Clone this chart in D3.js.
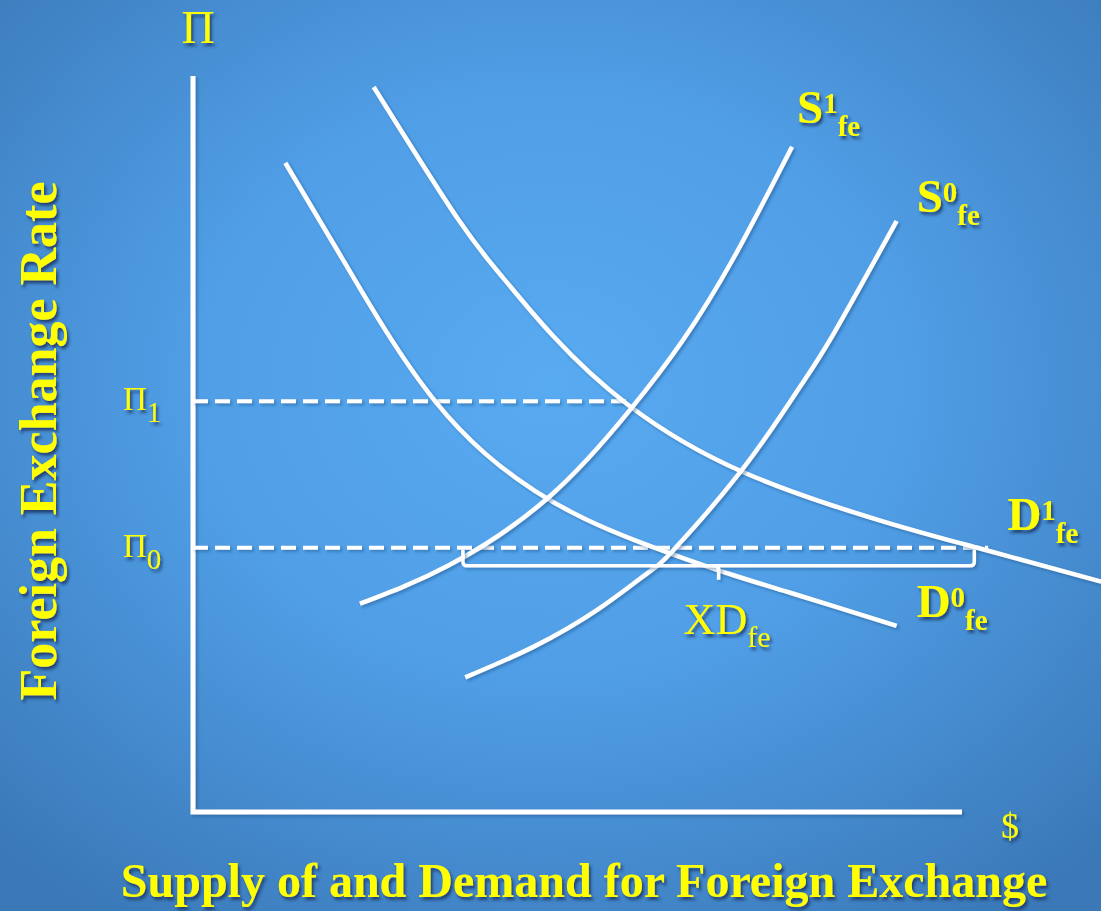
<!DOCTYPE html>
<html>
<head>
<meta charset="utf-8">
<script src="https://cdn.jsdelivr.net/npm/d3@7"></script>
<style>
  html, body { margin: 0; padding: 0; background: #4a8fd4; }
  svg { display: block; }
</style>
</head>
<body>
<div id="chart"></div>
<script>
// curve points as [quantity of $, foreign exchange rate]
const supply0 = [[35.4, 18.3], [44.2, 22.4], [52.9, 27.7], [59.4, 32.7], [62.3, 35.4], [71.1, 46.1], [78.5, 57.1], [83.2, 64.8], [91.5, 80.3]];
const supply1 = [[21.7, 28.3], [33.4, 33.6], [46.4, 42.9], [56.8, 54.6], [63.7, 64.1], [70.2, 75.1], [77.9, 90.4]];
const demand0 = [[12.0, 88.2], [18.5, 76.8], [25.0, 65.5], [31.5, 55.8], [38.0, 48.7], [44.5, 43.6], [51.0, 39.8], [57.5, 36.9], [64.0, 34.4], [70.5, 32.1], [77.0, 30.0], [83.5, 27.9], [91.5, 25.3]];
const demand1 = [[23.5, 98.5], [34.3, 80.8], [40.3, 72.6], [46.8, 64.7], [56.6, 55.3], [71.5, 46.2], [89.7, 39.5], [102.0, 35.9], [118.1, 31.3]];

const rateTicks = [55.8, 35.9];     // Π1, Π0
const rateSubs = ["1", "0"];
const rateEnds = [56.6, 103.4];     // where the dashed lines stop
const excessDemand = [35.1, 101.6]; // S1 and D1 at Π0

const width = 1101, height = 911;

const svg = d3.select("#chart")
  .append("svg")
  .attr("width", width)
  .attr("height", height);

const defs = svg.append("defs");
const grad = defs.append("radialGradient")
  .attr("id", "bg")
  .attr("cx", "50%").attr("cy", "42%").attr("r", "72%");
grad.append("stop").attr("offset", "0%").attr("stop-color", "#58aaf1");
grad.append("stop").attr("offset", "45%").attr("stop-color", "#509ee6");
grad.append("stop").attr("offset", "100%").attr("stop-color", "#3a78b7");

function shadowFilter(id, dx, dy, blur, color, opacity) {
  const f = defs.append("filter").attr("id", id)
    .attr("filterUnits", "userSpaceOnUse")
    .attr("x", 0).attr("y", 0).attr("width", width).attr("height", height);
  f.append("feDropShadow")
    .attr("dx", dx).attr("dy", dy).attr("stdDeviation", blur)
    .attr("flood-color", color).attr("flood-opacity", opacity);
}
shadowFilter("lineShadow", 2, 2, 1.5, "#1d4a80", 0.45);
shadowFilter("textShadow", 2, 3, 1.6, "#12335c", 0.8);

svg.append("rect")
  .attr("width", width)
  .attr("height", height)
  .attr("fill", "url(#bg)");

const x = d3.scaleLinear().domain([0, 100]).range([193, 962]);
const y = d3.scaleLinear().domain([0, 100]).range([812, 76]);

const serif = "'Liberation Serif', 'Times New Roman', serif";
const yellow = "#ffff00";

// axes
svg.append("path")
  .attr("d", `M${x(0)},${y(100)} V${y(0)} H${x(100)}`)
  .attr("fill", "none")
  .attr("stroke", "#fff")
  .attr("stroke-width", 5)
  .attr("filter", "url(#lineShadow)");

// dashed rate lines
svg.selectAll(".rate-line")
  .data(rateTicks)
  .enter()
  .append("line")
  .attr("class", "rate-line")
  .attr("x1", x(0))
  .attr("x2", (d, i) => x(rateEnds[i]))
  .attr("y1", (d) => y(d))
  .attr("y2", (d) => y(d))
  .attr("stroke", "#fff")
  .attr("stroke-width", 4)
  .attr("stroke-dasharray", "15 7")
  .attr("filter", "url(#lineShadow)");

// curves
const line = d3.line()
  .x((d) => x(d[0]))
  .y((d) => y(d[1]))
  .curve(d3.curveNatural);

[demand0, demand1, supply1, supply0].forEach((pts) => {
  svg.append("path")
    .attr("d", line(pts))
    .attr("fill", "none")
    .attr("stroke", "#fff")
    .attr("stroke-width", 4.5)
    .attr("filter", "url(#lineShadow)");
});

// excess demand bracket under Π0
const bx0 = x(excessDemand[0]), bx1 = x(excessDemand[1]);
const bTop = y(rateTicks[1]) + 2, bBot = y(rateTicks[1]) + 18;
const bMid = (bx0 + bx1) / 2, r = 4;
const bracket = svg.append("g")
  .attr("fill", "none")
  .attr("stroke", "#fff")
  .attr("stroke-width", 3.5)
  .attr("filter", "url(#lineShadow)");
bracket.append("path")
  .attr("d", `M${bx0},${bTop} V${bBot - r} Q${bx0},${bBot} ${bx0 + r},${bBot} H${bx1 - r} Q${bx1},${bBot} ${bx1},${bBot - r} V${bTop}`);
bracket.append("path")
  .attr("d", `M${bMid - r},${bBot} Q${bMid},${bBot} ${bMid},${bBot + r} V${bBot + 14}`);

// labels
const labels = svg.append("g")
  .attr("fill", yellow)
  .attr("font-family", serif)
  .attr("filter", "url(#textShadow)");

function scripted(px, py, main, sup, sub, o) {
  const t = labels.append("text")
    .attr("x", px)
    .attr("y", py)
    .attr("font-weight", o.bold ? "bold" : "normal");
  t.append("tspan").attr("font-size", o.size).text(main);
  let back = 0;
  if (sup) {
    t.append("tspan").attr("font-size", o.small).attr("dy", -o.up).text(sup);
    back = o.up;
  }
  if (sub) {
    t.append("tspan").attr("font-size", o.small).attr("dy", back + o.down).text(sub);
  }
  return t;
}

const curveLabel = { bold: true, size: 47, small: 29, up: 10, down: 13 };
const s1End = supply1[supply1.length - 1];
const s0End = supply0[supply0.length - 1];
const d0End = demand0[demand0.length - 1];
const d1Mark = demand1[demand1.length - 2];
scripted(x(s1End[0]) + 5, y(s1End[1]) - 24, "S", "1", "fe", curveLabel);
scripted(x(s0End[0]) + 20, y(s0End[1]) - 9, "S", "0", "fe", curveLabel);
scripted(x(d1Mark[0]) + 30, y(d1Mark[1]) - 18, "D", "1", "fe", curveLabel);
scripted(x(d0End[0]) + 20, y(d0End[1]) - 9, "D", "0", "fe", curveLabel);

scripted(bMid - 35, y(rateTicks[1]) + 86, "XD", null, "fe",
  { bold: false, size: 44, small: 30, down: 13 });

rateTicks.forEach((d, i) => {
  scripted(123, y(d) + 9, "Π", null, rateSubs[i],
    { bold: false, size: 33, small: 29, down: 12 });
});

labels.append("text")
  .attr("x", 198)
  .attr("y", 43)
  .attr("text-anchor", "middle")
  .attr("font-size", 46)
  .text("Π");

labels.append("text")
  .attr("x", 1010)
  .attr("y", 838)
  .attr("text-anchor", "middle")
  .attr("font-size", 36)
  .text("$");

labels.append("text")
  .attr("transform", "translate(56,441) rotate(-90)")
  .attr("text-anchor", "middle")
  .attr("font-weight", "bold")
  .attr("font-size", 52)
  .text("Foreign Exchange Rate");

labels.append("text")
  .attr("x", 584)
  .attr("y", 897)
  .attr("text-anchor", "middle")
  .attr("font-weight", "bold")
  .attr("font-size", 48)
  .text("Supply of and Demand for Foreign Exchange");
</script>
</body>
</html>
